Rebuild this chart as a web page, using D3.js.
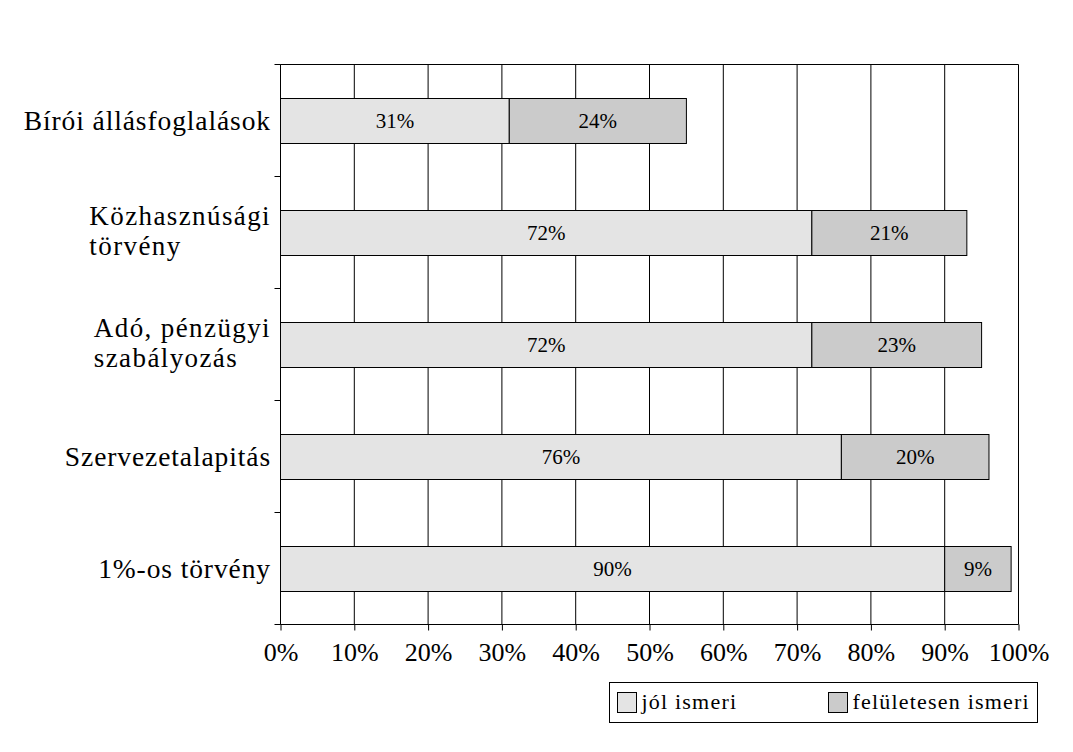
<!DOCTYPE html>
<html><head><meta charset="utf-8">
<script src="https://cdn.jsdelivr.net/npm/d3@7/dist/d3.min.js"></script>
<style>
body{margin:0;background:#fff;}
text{font-family:"Liberation Serif","Times New Roman",serif;fill:#000;}
</style></head>
<body><svg id="c" width="1073" height="752"></svg>
<script>
const categories = ["Bírói állásfoglalások", "Közhasznúsági\ntörvény", "Adó, pénzügyi\nszabályozás", "Szervezetalapitás", "1%-os törvény"];
const seriesNames = ["jól ismeri", "felületesen ismeri"];
const jolIsmeri = [31, 72, 72, 76, 90];
const feluletesen = [24, 21, 23, 20, 9];
const xTicks = [0,10,20,30,40,50,60,70,80,90,100];
const colors = ["#e4e4e4", "#cbcbcb"];

const svg = d3.select("#c");
const L = 280.5, R = 1018.5, T = 64.5, B = 624.5;
const x = d3.scaleLinear().domain([0,100]).range([L, R]);
const y = d3.scaleBand().domain(d3.range(categories.length)).range([T, B]).paddingInner(0.6).paddingOuter(0.3);
const yb = d3.scaleBand().domain(d3.range(categories.length)).range([T, B]);

// gridlines
svg.append("g").selectAll("line").data(xTicks).join("line")
  .attr("x1", d => x(d)).attr("x2", d => x(d)).attr("y1", T).attr("y2", B)
  .attr("stroke", "#000").attr("stroke-width", 1);
// top border
svg.append("line").attr("x1", L).attr("x2", R).attr("y1", T).attr("y2", T).attr("stroke", "#000");

// bars
const stacks = categories.map((c, i) => [
  {s: 0, v: jolIsmeri[i], i, k: 0},
  {s: jolIsmeri[i], v: feluletesen[i], i, k: 1}
]).flat();
const gb = svg.append("g");
gb.selectAll("rect").data(stacks).join("rect")
  .attr("x", d => x(d.s)).attr("width", d => x(d.s + d.v) - x(d.s))
  .attr("y", d => Math.round(y(d.i)) + 0.5).attr("height", Math.round(y.bandwidth()))
  .attr("fill", d => colors[d.k]).attr("stroke", "#000").attr("stroke-width", 1);
gb.selectAll("text").data(stacks).join("text")
  .attr("x", d => x(d.s + d.v / 2)).attr("y", d => Math.round(y(d.i)) + y.bandwidth() / 2 + 7.5)
  .attr("text-anchor", "middle").attr("font-size", 21)
  .text(d => d.v + "%");

// x axis
const xa = svg.append("g").attr("transform", `translate(0,${B})`)
  .call(d3.axisBottom(x).tickValues(xTicks).tickFormat(d => d + "%").tickSize(6).tickPadding(10));
xa.select(".domain").attr("stroke", "#000").attr("d", `M${L},0H${R}`);
xa.selectAll(".tick line").attr("stroke", "#000");
xa.selectAll(".tick text").attr("font-family", "Liberation Serif").attr("font-size", 26)
  .attr("fill", "#000").attr("dy", "0.78em");

// y axis line and ticks at boundaries
svg.append("line").attr("x1", L).attr("x2", L).attr("y1", T).attr("y2", B).attr("stroke", "#000");
const bounds = d3.range(categories.length + 1).map(i => i < categories.length ? yb(i) : B);
svg.append("g").selectAll("line").data(bounds).join("line")
  .attr("x1", L - 6).attr("x2", L).attr("y1", d => d).attr("y2", d => d).attr("stroke", "#000");

// category labels
const labelRight = 271;
categories.forEach((c, i) => {
  const lines = c.split("\n");
  const multi = lines.length > 1;
  const cy = y(i) + y.bandwidth() / 2;
  const g = svg.append("g");
  const lh = 30;
  const texts = lines.map((ln, j) => g.append("text")
    .attr("font-size", multi ? 27 : 27.5).attr("letter-spacing", multi ? 1.4 : 0.9)
    .attr("y", multi ? cy + 7 + (j - 0.5) * lh : cy + 9)
    .text(ln));
  const w = d3.max(texts, t => t.node().getComputedTextLength());
  texts.forEach(t => t.attr("x", labelRight - w));
});

// legend
const lg = svg.append("g");
lg.append("rect").attr("x", 609.5).attr("y", 682.5).attr("width", 428).attr("height", 40)
  .attr("fill", "#fff").attr("stroke", "#000");
const legX = [617.5, 828.5];
seriesNames.forEach((n, k) => {
  lg.append("rect").attr("x", legX[k]).attr("y", 692.5).attr("width", 19).attr("height", 20)
    .attr("fill", colors[k]).attr("stroke", "#000");
  lg.append("text").attr("x", legX[k] + 24).attr("y", 709).attr("font-size", 22).attr("letter-spacing", 1.2).text(n);
});
</script></body></html>
